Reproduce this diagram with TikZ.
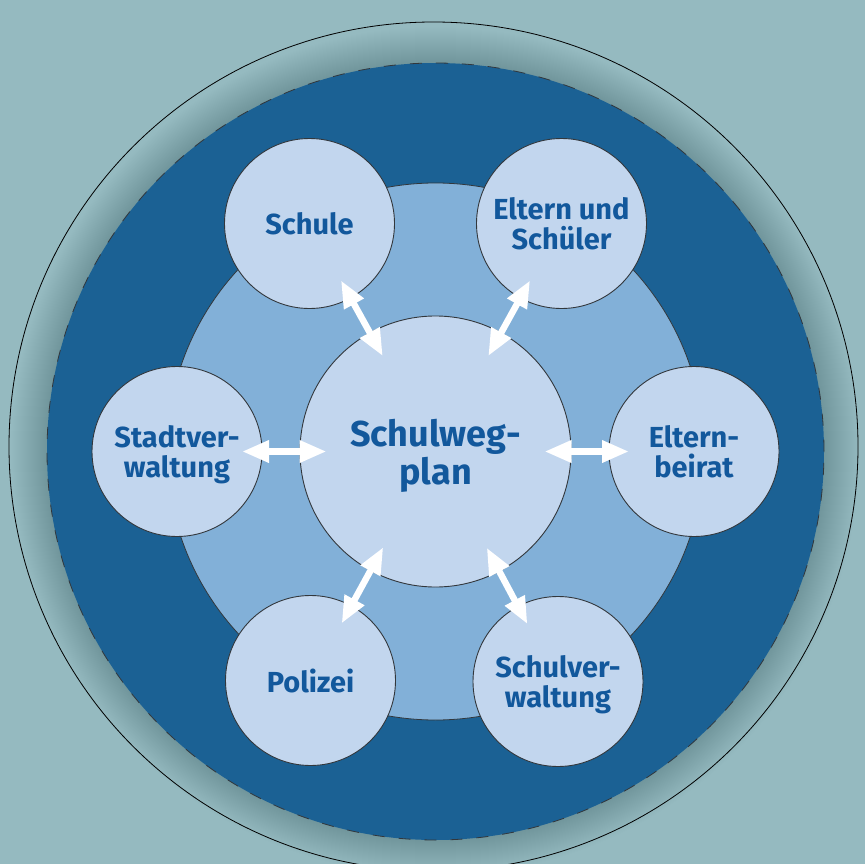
\documentclass[tikz,border=0pt]{standalone}
\usepackage{fontspec}
\setmainfont{Fira Sans}
\usetikzlibrary{arrows.meta,calc}
\definecolor{bgc}{RGB}{149,186,192}
\definecolor{darkb}{RGB}{27,97,148}
\definecolor{midb}{RGB}{130,176,216}
\definecolor{lightb}{RGB}{194,214,238}
\definecolor{txtb}{RGB}{18,88,156}
\definecolor{edge}{RGB}{50,55,60}
\begin{document}
\begin{tikzpicture}[x=1pt,y=-1pt,
  sat/.style={circle, draw=edge, line width=0.9pt, fill=lightb, minimum size=170pt, inner sep=0pt, align=center, text=txtb, font=\fontsize{29}{30}\selectfont\bfseries, text depth=0pt},
  hub/.style={circle, draw=edge, line width=0.9pt, fill=lightb, minimum size=271pt, inner sep=0pt, align=center, text=txtb, font=\fontsize{36}{38}\selectfont\bfseries, text depth=0pt},
  link/.style={white, line width=6.5pt, {Triangle[length=27pt,width=21pt]}-{Triangle[length=27pt,width=21pt]}}
]
\useasboundingbox (0,0) rectangle (865,864);
\clip (0,0) rectangle (865,864);
\fill[bgc] (0,0) rectangle (865,864);
\coordinate (mid) at (435.5,451.5);
% glow around the dark disc
\foreach \i in {1,...,36} {
  \fill[black, opacity=0.0045] (mid) circle[radius={388.5pt+\i pt}];
}
% thin outer ring
\draw[black, line width=0.8pt] (433.5,446.5) circle[radius=424.5pt];
% dark disc
\fill[darkb] (mid) circle[radius=388.5pt];
\draw[edge, line width=0.8pt, dash pattern=on 12pt off 14pt] (mid) circle[radius=388.5pt];
% middle disc
\fill[midb] (mid) circle[radius=268.5pt];
\draw[edge, line width=0.8pt] (mid) circle[radius=268.5pt];
% nodes
\node[hub] (plan) at (mid) {Schulweg-\\plan};
\node[sat] (schule) at (309.5,223.5) {Schule};
\node[sat] (eltern) at (561.5,223.5) {Eltern und\\Schüler};
\node[sat] (stadt) at (177,451.5) {Stadtver-\\waltung};
\node[sat] (beirat) at (694,451.5) {Eltern-\\beirat};
\node[sat] (polizei) at (310.5,680.5) {Polizei};
\node[sat] (sverw) at (558,681.5) {Schulver-\\waltung};
% arrows
\foreach \s in {schule,eltern,stadt,beirat,polizei,sverw} {
  \draw[link] ($(\s.center)!65pt!(plan.center)$) -- ($(plan.center)!109pt!(\s.center)$);
}
\end{tikzpicture}
\end{document}
